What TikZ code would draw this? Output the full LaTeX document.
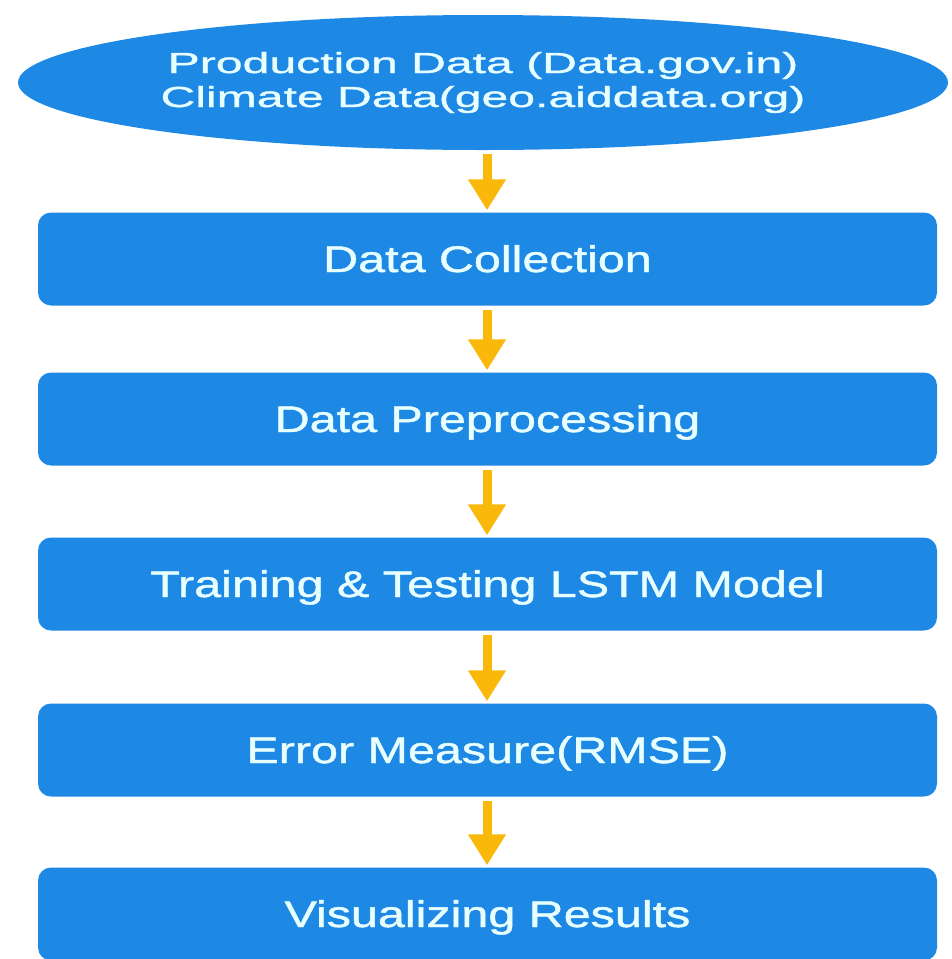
\documentclass[tikz,border=0pt]{standalone}
\usepackage{fontspec}
\setmainfont{Liberation Sans}
\newfontfamily\boxfont{Liberation Sans}[FakeStretch=1.31,FakeBold=1.2]
\newfontfamily\srcfont{Liberation Sans}[FakeStretch=1.66,FakeBold=1.2]
\usetikzlibrary{arrows.meta,shapes.geometric}
\definecolor{flowblue}{RGB}{30,136,229}
\definecolor{flowgold}{RGB}{250,184,10}
\definecolor{flowtext}{RGB}{232,255,255}
\tikzset{
  stepbox/.style={rectangle, rounded corners=13pt, fill=flowblue, draw=none,
    minimum width=899pt, minimum height=93pt, inner sep=0pt,
    text height=26pt, text depth=0pt,
    text=flowtext, font=\boxfont\fontsize{37}{40}\selectfont},
  sourcebox/.style={ellipse, fill=flowblue, draw=none, inner sep=0pt,
    minimum width=930pt, minimum height=135pt, align=center,
    text=flowtext, font=\srcfont\fontsize{29}{34}\selectfont},
  flowarrow/.style={draw=flowgold, line width=9pt,
    -{Triangle[width=36pt,length=31pt]}, shorten <=4pt, shorten >=2pt}
}
\begin{document}
\begin{tikzpicture}[x=1pt,y=-1pt]
  \useasboundingbox (0,0) rectangle (952,959);
  \node[sourcebox] (src) at (483,82.5)
    {Production Data (Data.gov.in)\\Climate Data(geo.aiddata.org)};
  \node[stepbox] (collect) at (487.5,259) {Data Collection};
  \node[stepbox] (prep)    at (487.5,419) {Data Preprocessing};
  \node[stepbox] (train)   at (487.5,584) {Training \& Testing LSTM Model};
  \node[stepbox] (err)     at (487.5,750) {Error Measure(RMSE)};
  \node[stepbox] (vis)     at (487.5,914) {Visualizing Results};
  \foreach \a/\b in {src/collect, collect/prep, prep/train, train/err, err/vis}
    \draw[flowarrow] (\a.south -| 487,0) -- (\b.north -| 487,0);
\end{tikzpicture}
\end{document}
